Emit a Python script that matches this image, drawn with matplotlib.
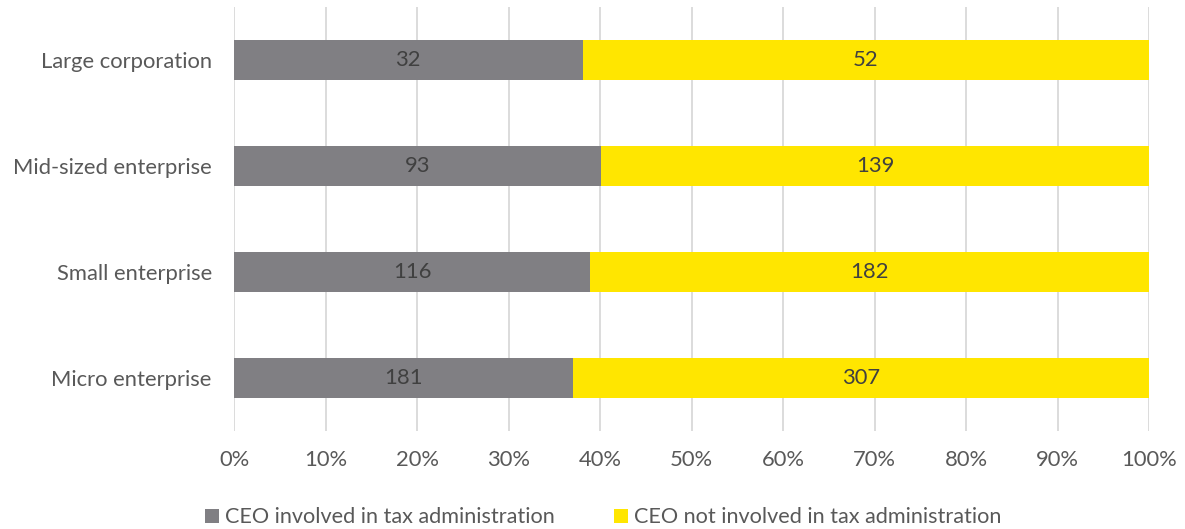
import matplotlib.pyplot as plt
import numpy as np

categories = ['Large corporation', 'Mid-sized enterprise', 'Small enterprise', 'Micro enterprise']
involved = [32, 93, 116, 181]
not_involved = [52, 139, 182, 307]
series_names = ['CEO involved in tax administration', 'CEO not involved in tax administration']

plt.rcParams['font.family'] = ['Lato', 'DejaVu Sans']

def main():
    fig = plt.figure(figsize=(11.85, 5.29), dpi=100)
    ax = fig.add_axes([0.1975, 0.1853, 0.7722, 0.8015])

    inv = np.array(involved, dtype=float)
    notinv = np.array(not_involved, dtype=float)
    total = inv + notinv
    p1 = inv / total
    p2 = notinv / total
    y = np.arange(len(categories))

    gray = '#807F83'
    yellow = '#FFE600'
    b1 = ax.barh(y, p1, height=0.377, color=gray, label=series_names[0], zorder=3)
    b2 = ax.barh(y, p2, left=p1, height=0.377, color=yellow, label=series_names[1], zorder=3)

    fs = 15.8
    for i in range(len(categories)):
        ax.text(p1[i] / 2, y[i], '%d' % involved[i], ha='center', va='center',
                fontsize=fs, color='#404040', zorder=4)
        ax.text(p1[i] + p2[i] / 2, y[i], '%d' % not_involved[i], ha='center', va='center',
                fontsize=fs, color='#404040', zorder=4)

    ax.set_xlim(0, 1)
    ax.set_ylim(len(categories) - 0.5, -0.5)
    ax.set_yticks(y)
    ax.set_yticklabels(categories)
    ax.set_xticks(np.linspace(0, 1, 11))
    ax.set_xticklabels(['%d%%' % v for v in range(0, 101, 10)])
    ax.xaxis.grid(True, color='#D9D9D9', linewidth=1.3, zorder=0)
    for s in ax.spines.values():
        s.set_visible(False)
    ax.tick_params(axis='y', length=0, pad=16, labelsize=fs, labelcolor='#595959')
    ax.tick_params(axis='x', length=0, pad=14, labelsize=fs, labelcolor='#595959')

    fig.legend(handles=[b1, b2], loc='lower center', bbox_to_anchor=(0.509, -0.034), ncol=2,
               frameon=False, fontsize=15.6, labelcolor='#595959', handlelength=0.65,
               handleheight=0.65, handletextpad=0.3, columnspacing=2.7)

    fig.savefig('out.png', dpi=100)

if __name__ == '__main__':
    main()
